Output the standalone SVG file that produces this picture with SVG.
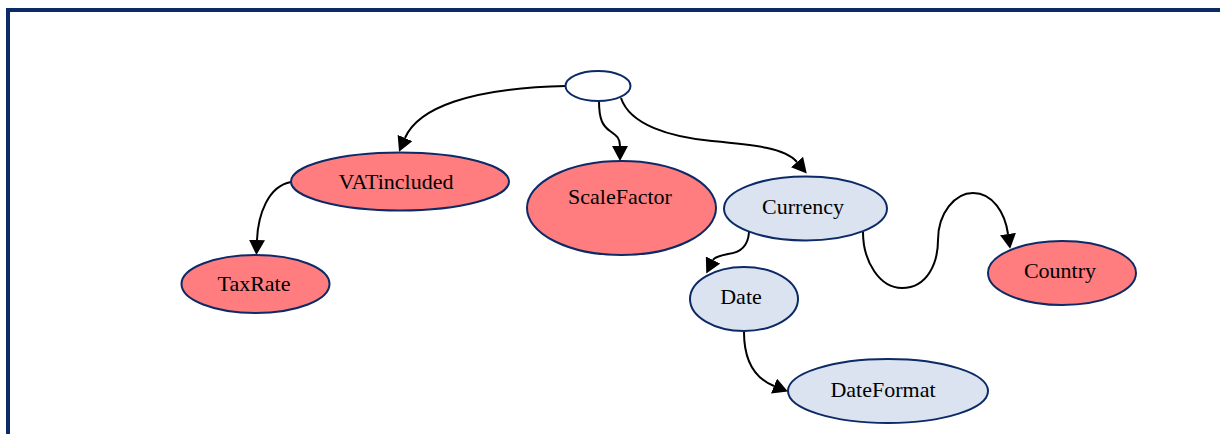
<svg xmlns="http://www.w3.org/2000/svg" width="1220" height="434" viewBox="0 0 1220 434">
<style>
.n{stroke:#0c2a66;stroke-width:2}
.r{fill:#ff7c7f}
.b{fill:#dae3ef}
.w{fill:#ffffff}
.t{font-family:"Liberation Serif","Times New Roman",serif;font-size:22px;fill:#000;text-anchor:middle}
.e{fill:none;stroke:#000;stroke-width:2}
</style>
<defs>
<marker id="ah" markerUnits="userSpaceOnUse" markerWidth="15" markerHeight="16" viewBox="0 0 15 16" refX="0" refY="8" orient="auto">
<path d="M0,0 L15,8 L0,16 z" fill="#000"/>
</marker>
</defs>
<rect x="0" y="0" width="1220" height="434" fill="#ffffff"/>
<rect x="8" y="10" width="1240" height="460" fill="none" stroke="#0c2a66" stroke-width="4"/>
<g id="edges">
<path class="e" marker-end="url(#ah)" d="M566,86 C470,88 418,108 405,138"/>
<path class="e" marker-end="url(#ah)" d="M599,101 C599,120 603,126 610,131 C617,136 620,138 620,146"/>
<path class="e" marker-end="url(#ah)" d="M621,98 C630,125 670,137 712,141 C755,145 785,148 797,162"/>
<path class="e" marker-end="url(#ah)" d="M291,182 C268,186 258,215 257,240"/>
<path class="e" marker-end="url(#ah)" d="M749,232 C748,248 738,253 728,254 C718,256 714,258 713,260"/>
<path class="e" marker-end="url(#ah)" d="M863,232 C863,262 880,288 902,288 C928,288 938,262 938,240 C938,213 955,193 973,193 C993,193 1005,213 1008,234"/>
<path class="e" marker-end="url(#ah)" d="M744,332 C744,360 754,378 774,386"/>
</g>
<g id="root"><ellipse class="n w" cx="598" cy="86" rx="32.5" ry="15"/></g>
<g id="VATincluded"><ellipse class="n r" cx="400" cy="181.5" rx="109" ry="29"/><text class="t" x="396" y="189">VATincluded</text></g>
<g id="ScaleFactor"><ellipse class="n r" cx="621.5" cy="208" rx="94.5" ry="47"/><text class="t" x="620" y="204">ScaleFactor</text></g>
<g id="Currency"><ellipse class="n b" cx="805.5" cy="208.5" rx="81.5" ry="32"/><text class="t" x="803" y="214">Currency</text></g>
<g id="Country"><ellipse class="n r" cx="1062" cy="273" rx="74" ry="32"/><text class="t" x="1060" y="278">Country</text></g>
<g id="Date"><ellipse class="n b" cx="744" cy="299" rx="54" ry="32"/><text class="t" x="741" y="304">Date</text></g>
<g id="DateFormat"><ellipse class="n b" cx="888" cy="391" rx="100" ry="32"/><text class="t" x="883" y="397">DateFormat</text></g>
<g id="TaxRate"><ellipse class="n r" cx="255.5" cy="284" rx="74" ry="29"/><text class="t" x="254" y="291">TaxRate</text></g>
</svg>
